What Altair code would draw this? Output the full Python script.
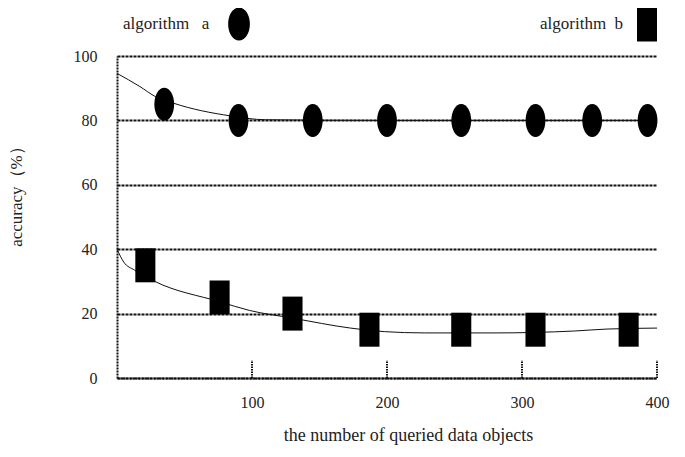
import altair as alt
import pandas as pd

# ---- data ----
a_x = [35, 90, 145, 200, 255, 310, 352, 393]
a_y = [85, 80, 80, 80, 80, 80, 80, 80]
b_x = [21, 76, 130, 187, 255, 310, 379]
b_y = [35, 25, 20, 15, 15, 15, 15]

line_a_x = [0, 17, 28, 41.5, 84, 110, 200, 300, 400]
line_a_y = [94.6, 90.5, 87.5, 85.4, 81.4, 80.2, 80, 80, 80]
line_b_x = [0, 5, 13, 28, 76, 98, 130, 173, 198, 228, 280, 339, 363, 400]
line_b_y = [40, 36, 33.5, 30, 23.7, 21, 18.6, 15.5, 14.4, 14, 14, 14.6, 15.2, 15.5]

x_ticks = [100, 200, 300, 400]
y_ticks = [0, 20, 40, 60, 80, 100]
legend_labels = ["algorithm\u00a0\u00a0\u00a0a", "algorithm\u00a0\u00a0b"]

FONT = "Liberation Serif"
ELLIPSE = "M0,-1 A0.6,1 0 1,1 0,1 A0.6,1 0 1,1 0,-1 Z"
RECT = "M-0.59,-1 L0.59,-1 L0.59,1 L-0.59,1 Z"

pts_a = pd.DataFrame({"x": a_x, "y": a_y})
pts_b = pd.DataFrame({"x": b_x, "y": b_y})
ln_a = pd.DataFrame({"x": line_a_x, "y": line_a_y})
ln_b = pd.DataFrame({"x": line_b_x, "y": line_b_y})
ticks = pd.DataFrame({"x": x_ticks, "y0": [0] * 4, "y1": [5.5] * 4})

xs = alt.Scale(domain=[0, 400], nice=False, zero=False)
ys = alt.Scale(domain=[0, 100], nice=False)

x_axis = alt.Axis(values=x_ticks, title="the number of queried data objects",
                  grid=False, ticks=False, labelPadding=16, titlePadding=16,
                  labelFlush=False, titleX=291,
                  domainDash=[2, 1], domainWidth=2, domainColor="#111",
                  labelFont=FONT, titleFont=FONT, labelFontSize=16, titleFontSize=18,
                  labelColor="#222", titleColor="#222", titleFontWeight="normal")
y_axis = alt.Axis(values=y_ticks, title="accuracy（%）", grid=True,
                  gridColor="#111", gridDash=[3, 1], gridWidth=2, gridOpacity=1,
                  ticks=False, labelPadding=20, titlePadding=48, titleY=136,
                  domainDash=[2, 1], domainWidth=2, domainColor="#111",
                  labelFont=FONT, titleFont=FONT, labelFontSize=16, titleFontSize=17,
                  labelColor="#222", titleColor="#222", titleFontWeight="normal")

base_axes = alt.Chart(pts_a).mark_point(opacity=0).encode(
    x=alt.X("x:Q", scale=xs, axis=x_axis),
    y=alt.Y("y:Q", scale=ys, axis=y_axis),
)

line_a = alt.Chart(ln_a).mark_line(color="#111", strokeWidth=1, interpolate="monotone").encode(
    x=alt.X("x:Q", scale=xs), y=alt.Y("y:Q", scale=ys))
line_b = alt.Chart(ln_b).mark_line(color="#111", strokeWidth=1, interpolate="monotone").encode(
    x=alt.X("x:Q", scale=xs), y=alt.Y("y:Q", scale=ys))

tick_rules = alt.Chart(ticks).mark_rule(color="#111", strokeWidth=2, strokeDash=[1.5, 1]).encode(
    x=alt.X("x:Q", scale=xs), y=alt.Y("y0:Q", scale=ys), y2="y1:Q")

mk_a = alt.Chart(pts_a).mark_point(shape=ELLIPSE, filled=True, color="#000",
                                   size=1089, opacity=1).encode(
    x=alt.X("x:Q", scale=xs), y=alt.Y("y:Q", scale=ys))
mk_b = alt.Chart(pts_b).mark_point(shape=RECT, filled=True, color="#000",
                                   size=1156, opacity=1).encode(
    x=alt.X("x:Q", scale=xs), y=alt.Y("y:Q", scale=ys))

leg_df = pd.DataFrame({"label": legend_labels})
leg_a_text = alt.Chart(leg_df.iloc[[0]]).mark_text(
    font=FONT, fontSize=17, align="left", baseline="middle", color="#222").encode(
    text="label:N", x=alt.value(6), y=alt.value(-32))
leg_b_text = alt.Chart(leg_df.iloc[[1]]).mark_text(
    font=FONT, fontSize=17, align="left", baseline="middle", color="#222").encode(
    text="label:N", x=alt.value(423), y=alt.value(-32))
leg_a_sym = alt.Chart(leg_df.iloc[[0]]).mark_point(
    shape="M0,-1 A0.66,1 0 1,1 0,1 A0.66,1 0 1,1 0,-1 Z", filled=True, color="#000",
    size=1089, opacity=1).encode(x=alt.value(122), y=alt.value(-32))
leg_b_sym = alt.Chart(leg_df.iloc[[1]]).mark_point(
    shape="M-0.57,-1 L0.57,-1 L0.57,1 L-0.57,1 Z", filled=True, color="#000",
    size=1225, opacity=1).encode(x=alt.value(530), y=alt.value(-32))

chart = alt.layer(base_axes, tick_rules, line_a, line_b, mk_a, mk_b,
                  leg_a_text, leg_b_text, leg_a_sym, leg_b_sym).properties(
    width=540, height=322,
    background="white",
    autosize=alt.AutoSizeParams(type="none"),
    padding={"left": 109, "top": 48, "right": 20, "bottom": 70},
).configure_view(stroke=None)

chart.save("out.html", embed_options={"renderer": "svg", "actions": False})
